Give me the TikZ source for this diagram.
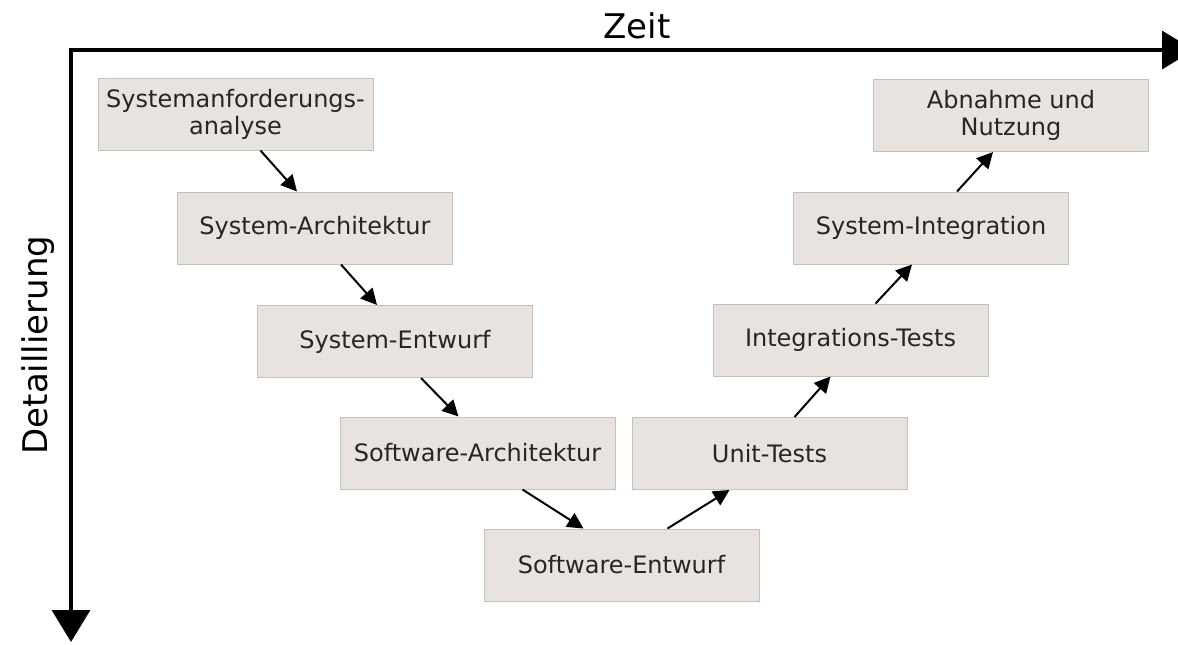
\documentclass[tikz,border=0pt]{standalone}
\usepackage{fontspec}
\setmainfont{DejaVu Sans}
\usetikzlibrary{arrows.meta}
\definecolor{boxfill}{HTML}{E8E3DE}
\definecolor{boxline}{HTML}{C4C0BC}

\begin{document}
\begin{tikzpicture}[x=0.5pt,y=-0.5pt,
  phase/.style={draw=boxline,fill=boxfill,line width=0.5pt,minimum width=137.5pt,
    minimum height=36pt,inner sep=0pt,align=center,
    font=\fontsize{12}{13.5}\selectfont,text=black!85},
  flow/.style={line width=1pt,-{Triangle[length=8pt,width=8pt]}},
  axislabel/.style={font=\fontsize{17}{20}\selectfont}]
\useasboundingbox (0,0) rectangle (1178,644);

% axes
\coordinate (o) at (71,50);
\coordinate (t) at (1194,50);
\coordinate (d) at (71,642);
\draw[line width=1.75pt,{Triangle[length=16pt,width=19pt]}-{Triangle[length=16pt,width=19pt]}]
  (t) -- (o) -- (d);
\node[axislabel] (zeit) at (637,26) {Zeit};
\node[axislabel,rotate=90] (detail) at (38,345) {Detaillierung};

% left branch
\node[phase] (sa) at (235.5,114) {Systemanforderungs-\\analyse};
\node[phase] (sarch) at (315,228) {System-Architektur};
\node[phase] (sent) at (395,341.5) {System-Entwurf};
\node[phase] (swarch) at (477.5,453) {Software-Architektur};
\node[phase] (swent) at (621.5,565) {Software-Entwurf};

% right branch
\node[phase] (unit) at (769.5,453.5) {Unit-Tests};
\node[phase] (itest) at (850.5,340) {Integrations-Tests};
\node[phase] (sint) at (931,228) {System-Integration};
\node[phase] (nutz) at (1011,115.5) {Abnahme und\\Nutzung};

\draw[flow] ([xshift=12.5pt]sa.south) -- ([xshift=-9pt]sarch.north);
\draw[flow] ([xshift=13pt]sarch.south) -- ([xshift=-9pt]sent.north);
\draw[flow] ([xshift=13pt]sent.south) -- ([xshift=-9.5pt]swarch.north);
\draw[flow] ([xshift=22.5pt]swarch.south) -- ([xshift=-19pt]swent.north);
\draw[flow] ([xshift=23pt]swent.north) -- ([xshift=-20pt]unit.south);
\draw[flow] ([xshift=12.5pt]unit.north) -- ([xshift=-10pt]itest.south);
\draw[flow] ([xshift=12.5pt]itest.north) -- ([xshift=-9.5pt]sint.south);
\draw[flow] ([xshift=13pt]sint.north) -- ([xshift=-9pt]nutz.south);
\end{tikzpicture}
\end{document}
